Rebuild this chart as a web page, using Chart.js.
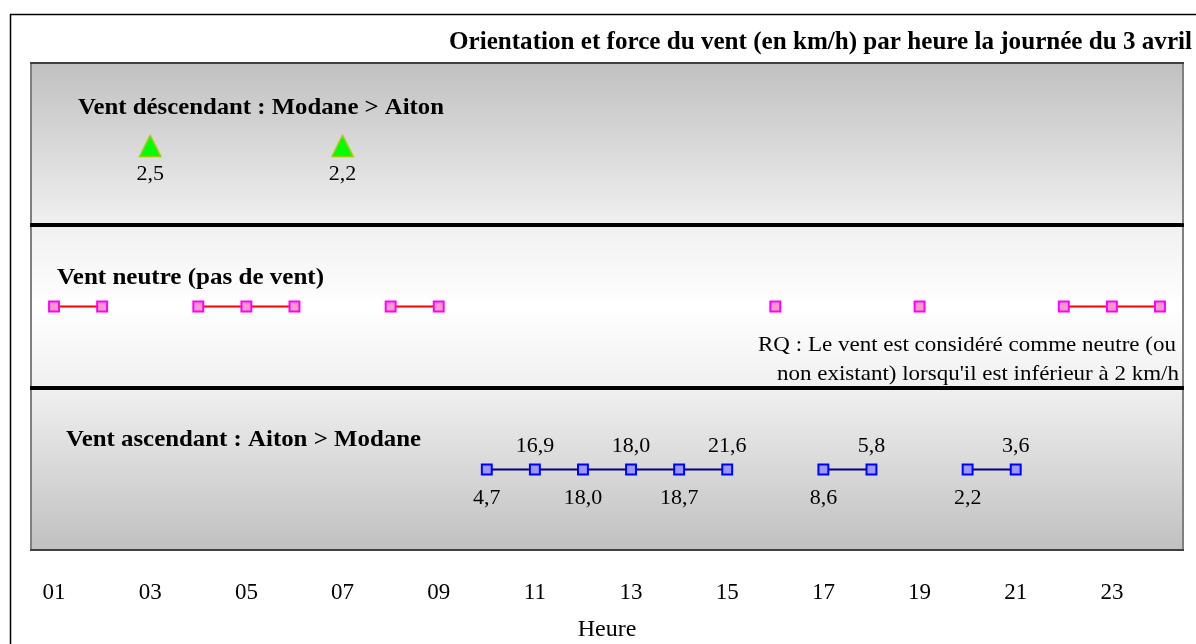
<!DOCTYPE html>
<html>
<head>
<meta charset="utf-8">
<script src="https://cdn.jsdelivr.net/npm/chart.js@4/dist/chart.umd.min.js"></script>
<style>
  html, body { margin: 0; padding: 0; background: #ffffff; }
  #wrap { width: 1196px; height: 644px; position: relative; }
</style>
</head>
<body>
<div id="wrap"><canvas id="c"></canvas></div>
<script>
// Hours of the day
const hourLabels = ['01','02','03','04','05','06','07','08','09','10','11','12',
                    '13','14','15','16','17','18','19','20','21','22','23','24'];
// Wind direction per hour: D = descendant, N = neutre, A = ascendant
const direction = ['N','N','D','N','N','N','D','N','N','A','A','A',
                   'A','A','A','N','A','A','N','A','A','N','N','N'];
// Wind force (km/h) per hour, where a direction exists
const speed = [null,null,2.5,null,null,null,2.2,null,null,4.7,16.9,18.0,
               18.0,18.7,21.6,null,8.6,5.8,null,2.2,3.6,null,null,null];
// Row of each direction on the band scale (0..3)
const bandRow = { A: 0.5, N: 1.5, D: 2.485 };

const SERIF = '"Liberation Serif", "Times New Roman", serif';

function rowData(code) {
  return direction.map(d => d === code ? bandRow[code] : null);
}
function fmt(v) { return v.toFixed(1).replace('.', ','); }

// Green triangle marker, slightly taller than an equilateral one
function makeTriangle() {
  const c = document.createElement('canvas');
  c.width = 24; c.height = 24;
  const g = c.getContext('2d');
  g.beginPath();
  g.moveTo(12, 1.5);
  g.lineTo(22.5, 22.5);
  g.lineTo(1.5, 22.5);
  g.closePath();
  g.fillStyle = '#00ff00';
  g.fill();
  g.lineWidth = 1.5;
  g.strokeStyle = '#99cc00';
  g.stroke();
  return c;
}

// Draw text squeezed/stretched horizontally to a given width
function fitText(ctx, txt, x, y, w, size, bold, align) {
  ctx.save();
  ctx.font = (bold ? 'bold ' : '') + size + 'px ' + SERIF;
  const m = ctx.measureText(txt).width;
  const sx = w / m;
  ctx.fillStyle = '#000';
  ctx.textBaseline = 'alphabetic';
  ctx.textAlign = 'left';
  const left = align === 'right' ? x - w : x;
  ctx.translate(left, y);
  ctx.scale(sx, 1);
  ctx.fillText(txt, 0, 0);
  ctx.restore();
}

const bandsPlugin = {
  id: 'bands',
  beforeDatasetsDraw(chart) {
    const { ctx, chartArea: a, scales: { y } } = chart;
    const y3 = y.getPixelForValue(3), y2 = y.getPixelForValue(2),
          y1 = y.getPixelForValue(1), y0 = y.getPixelForValue(0);
    ctx.save();
    let g = ctx.createLinearGradient(0, y3, 0, y2);
    g.addColorStop(0, '#c0c0c0'); g.addColorStop(1, '#f0f0f0');
    ctx.fillStyle = g; ctx.fillRect(a.left, y3, a.width, y2 - y3);
    g = ctx.createLinearGradient(0, y2, 0, y1);
    g.addColorStop(0, '#f0f0f0'); g.addColorStop(0.5, '#ffffff'); g.addColorStop(1, '#f0f0f0');
    ctx.fillStyle = g; ctx.fillRect(a.left, y2, a.width, y1 - y2);
    g = ctx.createLinearGradient(0, y1, 0, y0);
    g.addColorStop(0, '#f0f0f0'); g.addColorStop(1, '#c0c0c0');
    ctx.fillStyle = g; ctx.fillRect(a.left, y1, a.width, y0 - y1);

    // frame of the plot
    ctx.lineWidth = 2;
    ctx.strokeStyle = '#808080';
    ctx.beginPath();
    ctx.moveTo(a.left + 1, a.top); ctx.lineTo(a.left + 1, a.bottom);
    ctx.moveTo(a.right - 1, a.top); ctx.lineTo(a.right - 1, a.bottom);
    ctx.stroke();
    ctx.strokeStyle = '#404040';
    ctx.beginPath();
    ctx.moveTo(a.left, a.top + 1); ctx.lineTo(a.right, a.top + 1);
    ctx.moveTo(a.left, a.bottom - 1); ctx.lineTo(a.right, a.bottom - 1);
    ctx.stroke();

    // band separators
    ctx.strokeStyle = '#000000';
    ctx.lineWidth = 4;
    ctx.beginPath();
    ctx.moveTo(a.left, y2); ctx.lineTo(a.right, y2);
    ctx.moveTo(a.left, y1); ctx.lineTo(a.right, y1);
    ctx.stroke();

    // outer frame
    ctx.lineWidth = 1.5;
    ctx.strokeStyle = '#000';
    ctx.strokeRect(10.5, 14.5, 1400, 800);
    ctx.restore();

    // title and band captions
    fitText(ctx, 'Orientation et force du vent (en km/h) par heure la journée du 3 avril', 1192, 49, 743, 25, true, 'right');
    fitText(ctx, 'Vent déscendant : Modane > Aiton', 78, 114, 366, 24, true, 'left');
    fitText(ctx, 'Vent neutre (pas de vent)', 57, 284, 267, 24, true, 'left');
    fitText(ctx, 'Vent ascendant : Aiton > Modane', 66, 446, 355, 24, true, 'left');
    fitText(ctx, "RQ : Le vent est considéré comme neutre (ou", 1176, 351, 418, 22, false, 'right');
    fitText(ctx, "non existant) lorsqu'il est inférieur à 2 km/h", 1179, 380, 402, 22, false, 'right');
  },
  afterDatasetsDraw(chart) {
    const { ctx } = chart;
    ctx.save();
    ctx.font = '22px ' + SERIF;
    ctx.fillStyle = '#000';
    ctx.textAlign = 'center';
    ctx.textBaseline = 'alphabetic';
    chart.data.datasets.forEach((ds, di) => {
      const code = ds.code;
      if (code === 'N') return;
      const meta = chart.getDatasetMeta(di);
      let run = 0;
      speed.forEach((v, i) => {
        if (direction[i] !== code) { run = 0; return; }
        const p = meta.data[i];
        const dy = (run % 2 === 0) ? 34 : -17.5;
        ctx.fillText(fmt(v), p.x, p.y + dy);
        run++;
      });
    });
    ctx.restore();
  }
};

new Chart(document.getElementById('c'), {
  type: 'line',
  data: {
    labels: hourLabels,
    datasets: [
      {
        code: 'D',
        data: rowData('D'),
        showLine: false,
        pointStyle: makeTriangle(),
        pointRadius: 12
      },
      {
        code: 'N',
        data: rowData('N'),
        spanGaps: false,
        borderColor: '#ff0000',
        borderWidth: 2,
        pointStyle: 'rect',
        pointRadius: 7,
        pointBackgroundColor: '#ff99cc',
        pointBorderColor: '#ff00ff',
        pointBorderWidth: 2
      },
      {
        code: 'A',
        data: rowData('A'),
        spanGaps: false,
        borderColor: '#000080',
        borderWidth: 2,
        pointStyle: 'rect',
        pointRadius: 7,
        pointBackgroundColor: '#9999ff',
        pointBorderColor: '#0000ff',
        pointBorderWidth: 2
      }
    ]
  },
  options: {
    responsive: true,
    maintainAspectRatio: false,
    animation: false,
    layout: { autoPadding: false, padding: { left: 30, right: 12, top: 62, bottom: 0 } },
    plugins: {
      legend: { display: false },
      tooltip: { enabled: false },
      title: { display: false }
    },
    scales: {
      x: {
        type: 'category',
        offset: true,
        grid: { display: false, drawTicks: false },
        border: { display: false },
        ticks: {
          autoSkip: false,
          maxRotation: 0,
          padding: 28.2,
          color: '#000',
          font: { family: SERIF, size: 23 },
          callback: function (val, i) { return i % 2 === 0 ? this.getLabelForValue(val) : ''; }
        },
        title: {
          display: true,
          text: 'Heure',
          color: '#000',
          font: { family: SERIF, size: 24 },
          padding: { top: -19.8, bottom: 0 }
        }
      },
      y: {
        display: false,
        min: 0,
        max: 3
      }
    }
  },
  plugins: [bandsPlugin]
});
</script>
</body>
</html>
